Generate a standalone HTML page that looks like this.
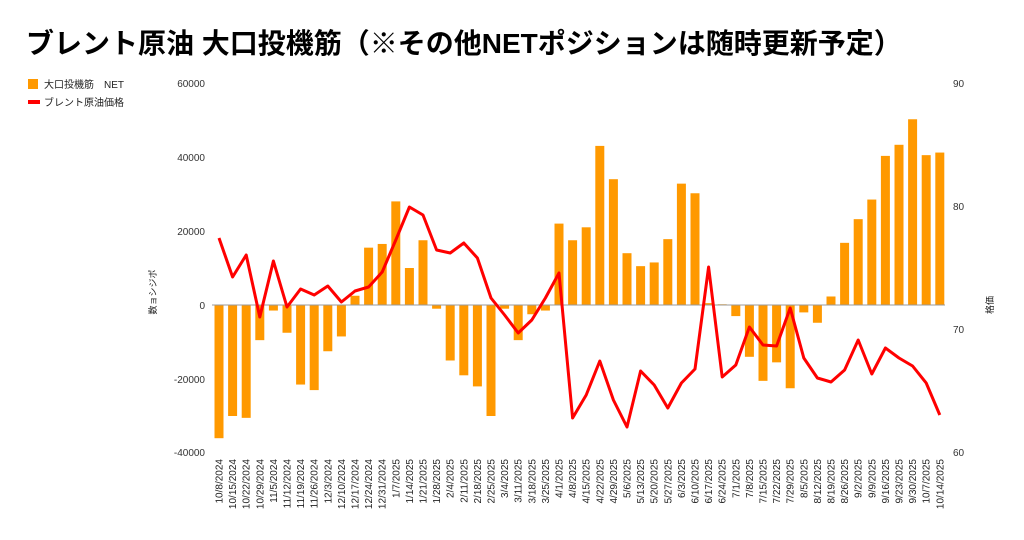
<!DOCTYPE html>
<html><head><meta charset="utf-8"><style>
body{margin:0;background:#fff;}
svg text{font-family:"Liberation Sans","Noto Sans CJK JP",sans-serif;}
</style></head><body>
<svg width="1024" height="535" xmlns="http://www.w3.org/2000/svg" id="s">
<text x="26" y="53" font-size="28" font-weight="bold" fill="#000">ブレント原油 大口投機筋（※その他NETポジションは随時更新予定）</text>
<rect x="28" y="79" width="10" height="10" fill="#ff9900"/>
<text x="44" y="88" font-size="10" fill="#222">大口投機筋　NET</text>
<rect x="28" y="100" width="12" height="4" fill="#ff0000"/>
<text x="44" y="106" font-size="10" fill="#222">ブレント原油価格</text>
<g font-size="10" fill="#333" text-anchor="end">
<text x="205" y="87">60000</text><text x="205" y="161">40000</text><text x="205" y="235">20000</text>
<text x="205" y="309">0</text><text x="205" y="383">-20000</text><text x="205" y="456">-40000</text>
</g>
<g font-size="10" fill="#333">
<text x="953" y="87">90</text><text x="953" y="210">80</text><text x="953" y="333">70</text><text x="953" y="456">60</text>
</g>
<text transform="translate(156,292) rotate(-90)" font-size="9" fill="#222" text-anchor="middle">数ョシジポ</text>
<text transform="translate(993,305) rotate(-90)" font-size="9" fill="#222" text-anchor="middle">格価</text>
<g id="bars" fill="#ff9900"></g>
<line x1="212" y1="305" x2="945" y2="305" stroke="#999" stroke-width="1"/>
<polyline id="ln" fill="none" stroke="#ff0000" stroke-width="3" stroke-linejoin="round"/>
<g id="xl" font-size="10" fill="#222" text-anchor="end"></g>
</svg>
<script>
var v=[-36000,-30000,-30500,-9500,-1500,-7500,-21500,-23000,-12500,-8500,2500,15500,16500,28000,10000,17500,-1000,-15000,-19000,-22000,-30000,-1000,-9500,-2500,-1500,22000,17500,21000,43000,34000,14000,10500,11500,17800,32800,30200,500,200,-3000,-14000,-20500,-15500,-22500,-2000,-4800,2300,16800,23200,28500,40300,43300,50200,40500,41200];
var ly=[238,277,255,317,261,307,289,295,286,302,291,287,272,240,207,215,250,253,243,258,298,315,333,320,298,273,418,395,361,400,427,371,385,408,383,369,267,377,365,327,345,346,308,358,378,382,370,340,374,348,358,366,383,415];
var d=["10/8/2024","10/15/2024","10/22/2024","10/29/2024","11/5/2024","11/12/2024","11/19/2024","11/26/2024","12/3/2024","12/10/2024","12/17/2024","12/24/2024","12/31/2024","1/7/2025","1/14/2025","1/21/2025","1/28/2025","2/4/2025","2/11/2025","2/18/2025","2/25/2025","3/4/2025","3/11/2025","3/18/2025","3/25/2025","4/1/2025","4/8/2025","4/15/2025","4/22/2025","4/29/2025","5/6/2025","5/13/2025","5/20/2025","5/27/2025","6/3/2025","6/10/2025","6/17/2025","6/24/2025","7/1/2025","7/8/2025","7/15/2025","7/22/2025","7/29/2025","8/5/2025","8/12/2025","8/19/2025","8/26/2025","9/2/2025","9/9/2025","9/16/2025","9/23/2025","9/30/2025","10/7/2025","10/14/2025"];
var ns="http://www.w3.org/2000/svg",b=document.getElementById("bars"),x=document.getElementById("xl"),pts=[];
for(var i=0;i<54;i++){var cx=219+i*13.6,h=Math.abs(v[i])/20000*74,y=v[i]>=0?305-h:305;
var r=document.createElementNS(ns,"rect");r.setAttribute("x",cx-4.5);r.setAttribute("y",y);r.setAttribute("width",9);r.setAttribute("height",Math.max(h,0.5));b.appendChild(r);
pts.push(cx+","+ly[i]);
var t=document.createElementNS(ns,"text");t.setAttribute("transform","translate("+(cx+3.5)+",459) rotate(-90)");t.textContent=d[i];x.appendChild(t);}
document.getElementById("ln").setAttribute("points",pts.join(" "));
</script>
</body></html>
